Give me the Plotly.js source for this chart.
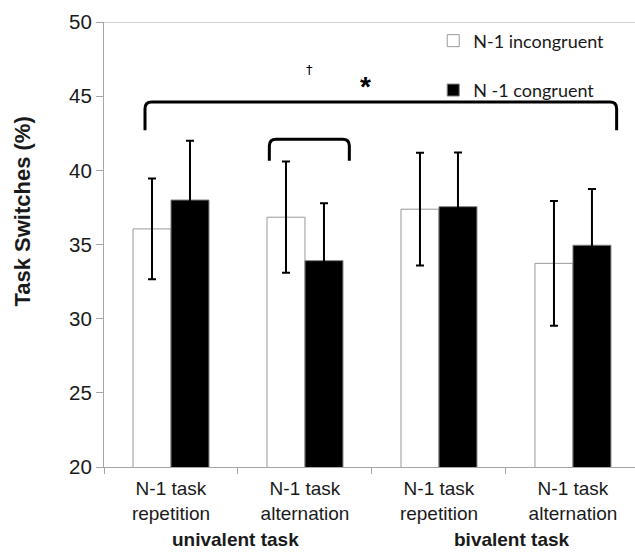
<!DOCTYPE html>
<html>
<head>
<meta charset="utf-8">
<script src="https://cdn.plot.ly/plotly-3.0.1.min.js"></script>
<style>html,body{margin:0;padding:0;background:#fff;}#chart{width:635px;height:552px;}</style>
</head>
<body>
<div id="chart"></div>
<script>
// ---- data ----
const positions = [0, 1, 2, 3];
const tickLabels = ['N-1 task<br>repetition', 'N-1 task<br>alternation', 'N-1 task<br>repetition', 'N-1 task<br>alternation'];
const groupLabels = ['univalent task', 'bivalent task'];
const seriesNames = ['N-1 incongruent', 'N -1 congruent'];
const incongruent = [36.05, 36.84, 37.38, 33.73];
const congruent = [38.0, 33.91, 37.55, 34.95];
const errIncongruent = [3.4, 3.75, 3.8, 4.2];
const errCongruent = [4.0, 3.87, 3.65, 3.8];
const boundaries = [-0.5, 0.5, 1.5, 2.5, 3.5];
const yTicks = [20, 25, 30, 35, 40, 45, 50];

const axisGray = '#a6a6a6';
const textColor = '#1a1a1a';

const traces = [
  {
    type: 'bar', x: positions, y: incongruent, name: seriesNames[0], legendgroup: 'a',
    marker: {color: '#ffffff', line: {color: '#999999', width: 1}},
    error_y: {type: 'data', array: errIncongruent, visible: true, color: '#000000', thickness: 2, width: 4}
  },
  {
    type: 'bar', x: positions, y: congruent, name: seriesNames[1], legendgroup: 'b',
    marker: {color: '#000000', line: {color: '#808080', width: 1}},
    error_y: {type: 'data', array: errCongruent, visible: true, color: '#000000', thickness: 2, width: 4}
  }
];

function bracket(x0, x1, yTop, yBot, rx, ry) {
  return 'M' + x0 + ',' + yBot + ' L' + x0 + ',' + (yTop - ry) +
    ' Q' + x0 + ',' + yTop + ' ' + (x0 + rx) + ',' + yTop +
    ' L' + (x1 - rx) + ',' + yTop +
    ' Q' + x1 + ',' + yTop + ' ' + x1 + ',' + (yTop - ry) +
    ' L' + x1 + ',' + yBot;
}

const layout = {
  width: 635, height: 552,
  margin: {l: 104, r: 0, t: 22, b: 85},
  paper_bgcolor: '#ffffff', plot_bgcolor: '#ffffff',
  barmode: 'group', bargap: 0.433, bargroupgap: 0,
  font: {family: 'Arial, "Liberation Sans", sans-serif', color: textColor, size: 18},
  showlegend: true,
  legend: {
    x: 0.62, xanchor: 'left', y: 0.999, yanchor: 'top',
    traceorder: 'grouped', tracegroupgap: 23,
    font: {family: 'Lato, "Open Sans", sans-serif', size: 18, color: textColor},
    bgcolor: 'rgba(0,0,0,0)', borderwidth: 0
  },
  xaxis: {
    range: [-0.5, 3.463], fixedrange: true,
    tickmode: 'array', tickvals: positions, ticktext: tickLabels,
    ticks: '', showgrid: false, zeroline: false,
    showline: true, linecolor: axisGray, linewidth: 1,
    ticklabelstandoff: 4,
    tickfont: {size: 19, color: textColor},
    minor: {tickmode: 'array', tickvals: boundaries, ticks: 'outside', ticklen: 6, tickcolor: axisGray, tickwidth: 1, showgrid: false}
  },
  yaxis: {
    range: [20, 50], fixedrange: true,
    tickmode: 'array', tickvals: yTicks,
    ticks: 'outside', ticklen: 7, tickcolor: axisGray, tickwidth: 1,
    showgrid: false, zeroline: false,
    showline: true, linecolor: axisGray, linewidth: 1,
    tickfont: {size: 20.5, color: textColor}
  },
  shapes: [
    {type: 'line', xref: 'paper', yref: 'y', x0: 0, x1: 1, y0: 50, y1: 50, line: {color: axisGray, width: 1}},
    {type: 'path', xref: 'x', yref: 'y', path: bracket(-0.194, 3.326, 44.6, 42.7, 0.05, 0.45), line: {color: '#000000', width: 3}},
    {type: 'path', xref: 'x', yref: 'y', path: bracket(0.734, 1.331, 42.1, 40.65, 0.05, 0.45), line: {color: '#000000', width: 3}}
  ],
  annotations: [
    {text: '<b>Task Switches (%)</b>', xref: 'paper', yref: 'paper', x: -0.1525, y: 0.574, textangle: -90,
     showarrow: false, font: {size: 22, color: textColor}, xanchor: 'center', yanchor: 'middle'},
    {text: '<b>' + groupLabels[0] + '</b>', xref: 'x', yref: 'paper', x: 0.478, y: -0.164, showarrow: false,
     font: {size: 19, color: textColor}, xanchor: 'center', yanchor: 'middle'},
    {text: '<b>' + groupLabels[1] + '</b>', xref: 'x', yref: 'paper', x: 2.545, y: -0.164, showarrow: false,
     font: {size: 19, color: textColor}, xanchor: 'center', yanchor: 'middle'},
    {text: '†', xref: 'x', yref: 'y', x: 1.037, y: 46.77, showarrow: false,
     font: {family: '"DejaVu Sans", Arial, sans-serif', size: 13, color: '#000000'}, xanchor: 'center', yanchor: 'middle'},
    {text: '<b>*</b>', xref: 'x', yref: 'y', x: 1.453, y: 45.65, showarrow: false,
     font: {size: 28, color: '#000000'}, xanchor: 'center', yanchor: 'middle'}
  ]
};

Plotly.newPlot('chart', traces, layout, {displayModeBar: false, staticPlot: true});
</script>
</body>
</html>
